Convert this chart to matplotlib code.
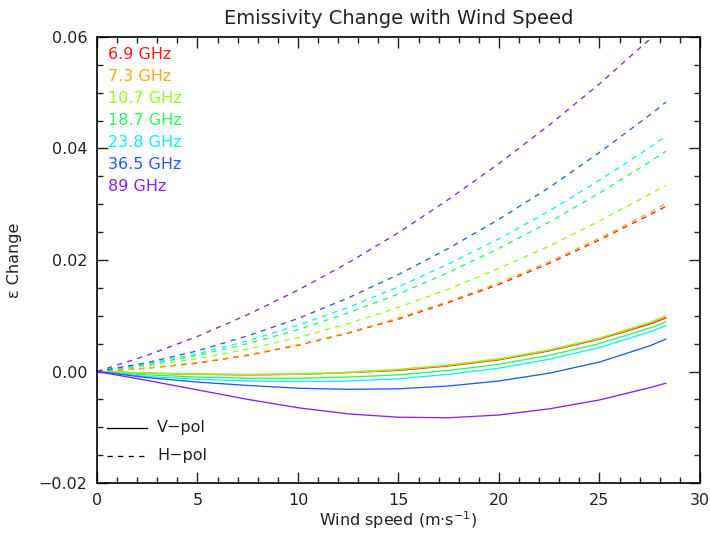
import numpy as np
import matplotlib
matplotlib.use('Agg')
from matplotlib import pyplot as plt
from matplotlib.ticker import MultipleLocator, FuncFormatter

# wind speed samples (m/s)
wind = [0, 2.5, 5, 7.5, 10, 12.5, 15, 17.5, 20, 22.5, 25, 27.5, 28.3]

freqs = ['6.9 GHz', '7.3 GHz', '10.7 GHz', '18.7 GHz', '23.8 GHz', '36.5 GHz', '89 GHz']
colors = ['#ff1a1a', '#ffaa10', '#8cff20', '#20ff60', '#10f0f0', '#1f5cff', '#8a1fff']

# H-pol (dashed)
h_69 = [0, 0.0006, 0.0015, 0.0029, 0.0047, 0.0069, 0.0094, 0.0124, 0.0156, 0.0194, 0.0236, 0.0281, 0.0296]
h_73 = [0, 0.0006, 0.0016, 0.0030, 0.0048, 0.0070, 0.0096, 0.0126, 0.0159, 0.0197, 0.0239, 0.0285, 0.0301]
h_107 = [0, 0.0010, 0.0023, 0.0040, 0.0061, 0.0086, 0.0115, 0.0148, 0.0185, 0.0225, 0.0270, 0.0318, 0.0334]
h_187 = [0, 0.0012, 0.0029, 0.0050, 0.0075, 0.0105, 0.0139, 0.0178, 0.0221, 0.0268, 0.0320, 0.0376, 0.0395]
h_238 = [0, 0.0014, 0.0032, 0.0055, 0.0083, 0.0115, 0.0152, 0.0193, 0.0238, 0.0288, 0.0343, 0.0402, 0.0422]
h_365 = [0, 0.0016, 0.0037, 0.0064, 0.0095, 0.0132, 0.0174, 0.0221, 0.0273, 0.0330, 0.0393, 0.0460, 0.0483]
h_89 = [0, 0.0029, 0.0063, 0.0102, 0.0146, 0.0195, 0.0249, 0.0309, 0.0373, 0.0442, 0.0516, 0.0596, 0.0622]

# V-pol (solid)
v_69 = [0, -0.0003, -0.0005, -0.0006, -0.0005, -0.0002, 0.0002, 0.0010, 0.0021, 0.0037, 0.0058, 0.0085, 0.0096]
v_73 = [0, -0.0003, -0.0005, -0.0006, -0.0005, -0.0002, 0.0003, 0.0011, 0.0022, 0.0038, 0.0059, 0.0087, 0.0098]
v_107 = [0, -0.0003, -0.0004, -0.0005, -0.0004, -0.0001, 0.0004, 0.0012, 0.0023, 0.0039, 0.0060, 0.0088, 0.0100]
v_187 = [0, -0.0006, -0.0010, -0.0012, -0.0012, -0.0010, -0.0006, 0.0002, 0.0013, 0.0029, 0.0050, 0.0078, 0.0089]
v_238 = [0, -0.0009, -0.0014, -0.0017, -0.0018, -0.0017, -0.0013, -0.0005, 0.0006, 0.0022, 0.0043, 0.0071, 0.0082]
v_365 = [0, -0.0011, -0.0019, -0.0025, -0.0030, -0.0032, -0.0031, -0.0026, -0.0017, -0.0003, 0.0017, 0.0046, 0.0058]
v_89 = [0, -0.0016, -0.0033, -0.0050, -0.0065, -0.0076, -0.0082, -0.0083, -0.0078, -0.0067, -0.0051, -0.0029, -0.0021]

hpol = [h_69, h_73, h_107, h_187, h_238, h_365, h_89]
vpol = [v_69, v_73, v_107, v_187, v_238, v_365, v_89]

plt.rcParams['font.family'] = ['DejaVu Sans']
fig = plt.figure(figsize=(7.1, 5.33), dpi=100)
ax = fig.add_axes([0.1366, 0.0938, 0.8493, 0.8368])

for i in range(len(freqs)):
    ax.plot(wind, vpol[i], color=colors[i], lw=0.95)
    ax.plot(wind, hpol[i], color=colors[i], lw=0.95, dashes=(4, 4))

ax.set_xlim(0, 30)
ax.set_ylim(-0.02, 0.06)
ax.xaxis.set_major_locator(MultipleLocator(5))
ax.xaxis.set_minor_locator(MultipleLocator(1))
ax.yaxis.set_major_locator(MultipleLocator(0.02))
ax.yaxis.set_minor_locator(MultipleLocator(0.005))
ax.yaxis.set_major_formatter(FuncFormatter(lambda v, p: ('%.2f' % v).replace('-', '\u2212')))
ax.tick_params(which='both', direction='in', top=True, right=True, labelsize=11.5, width=1.0, pad=7, colors='#222222')
ax.tick_params(which='major', length=8)
ax.tick_params(which='minor', length=4)
for s in ax.spines.values():
    s.set_linewidth(1.2)

ax.set_title('Emissivity Change with Wind Speed', fontsize=14, pad=9, color='#222222')
ax.set_xlabel('Wind speed (m$\\cdot$s$^{-1}$)', fontsize=11.5, labelpad=1, color='#222222')
ax.set_ylabel('\u03b5 Change', fontsize=11.5, labelpad=12, color='#222222')

for i in range(len(freqs)):
    ax.text(0.018, 0.960 - i * 0.0493, freqs[i], color=colors[i], fontsize=11.5,
            transform=ax.transAxes, va='center', ha='left')

# polarisation key
ax.plot([0.5, 2.5], [-0.0101, -0.0101], color='black', lw=0.95)
ax.plot([0.5, 2.5], [-0.0151, -0.0151], color='black', lw=0.95, dashes=(4, 4))
ax.text(3.0, -0.0101, 'V\u2212pol', fontsize=11.5, va='center', color='#222222')
ax.text(3.0, -0.0151, 'H\u2212pol', fontsize=11.5, va='center', color='#222222')

fig.savefig('out.png', dpi=100)
